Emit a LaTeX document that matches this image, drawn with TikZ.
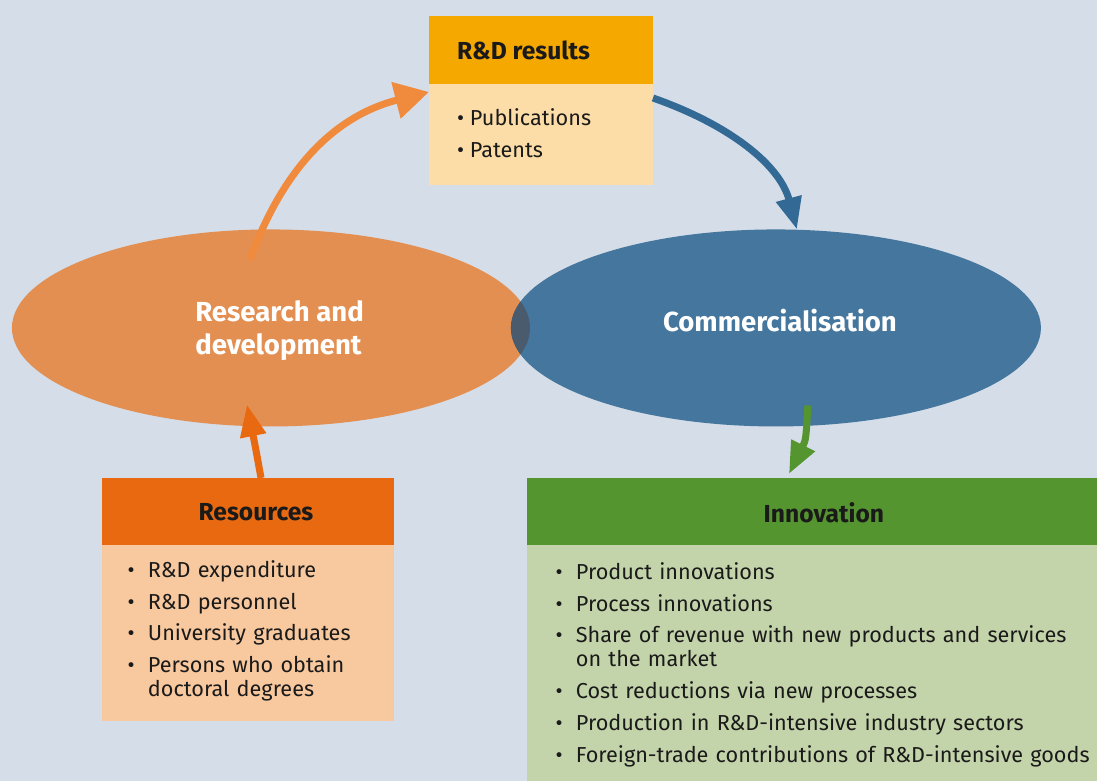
\documentclass[tikz,border=0pt]{standalone}
\usepackage{fontspec}
\setmainfont{Fira Sans}
\usepackage{enumitem}
\usetikzlibrary{arrows.meta,shapes.geometric,positioning}

\definecolor{bg}{HTML}{D5DDE8}
\definecolor{ink}{HTML}{1A1A1A}
\definecolor{rdhead}{HTML}{F5A800}
\definecolor{rdbody}{HTML}{FCDDA8}
\definecolor{rdev}{HTML}{E48F52}
\definecolor{comm}{HTML}{44769E}
\definecolor{overlap}{HTML}{4A5B6D}
\definecolor{arrorange}{HTML}{F08A3C}
\definecolor{arrblue}{HTML}{336995}
\definecolor{reshead}{HTML}{E8690F}
\definecolor{resbody}{HTML}{F8C89E}
\definecolor{innohead}{HTML}{55952F}
\definecolor{innobody}{HTML}{C4D4AA}

\setlist[itemize]{label=\textbullet, leftmargin=14pt, labelsep=9.5pt, labelwidth=4.5pt,
  itemsep=5.7pt, parsep=0pt, topsep=0pt, partopsep=0pt}

\begin{document}
\begin{tikzpicture}[x=0.025cm, y=-0.025cm,
    box/.style={anchor=north west, inner sep=0pt, outer sep=0pt},
    oval/.style={ellipse, inner sep=0pt, outer sep=0pt, minimum height=4.925cm},
    flow/.style={line width=5pt, -{Triangle[length=0.8cm, width=0.62cm]}},
    headtxt/.style={inner sep=0pt, font=\fontsize{17.5}{20}\selectfont\bfseries, text=ink},
    ovaltxt/.style={inner sep=0pt, font=\fontsize{19.6}{23.5}\selectfont\bfseries, text=white},
    list/.style={anchor=north west, inner sep=0pt, text=ink, font=\fontsize{15.4}{17}\selectfont}]

    % Background
    \fill[bg] (0,0) rectangle (1097,781);

    % Ellipses
    \node [oval, fill=rdev, minimum width=12.95cm] (rdev) at (271,328) {};
    \node [oval, fill=comm, minimum width=13.25cm] (comm) at (776,328) {};
    \begin{scope}
        \clip (271,328) ellipse [x radius=6.475cm, y radius=2.4625cm];
        \fill [overlap] (776,328) ellipse [x radius=6.625cm, y radius=2.4625cm];
    \end{scope}
    \node [ovaltxt, anchor=west, align=left] (rdevtxt) at (195,331) {Research and\\development};
    \node [ovaltxt] (commtxt) at (780,321) {Commercialisation};

    % R&D results
    \node [box, fill=rdhead, minimum width=5.6cm, minimum height=1.7cm] (rdreshead) at (429,16) {};
    \node [box, fill=rdbody, minimum width=5.6cm, minimum height=2.525cm] (rdresbody) at (429,84) {};
    \node [headtxt, anchor=west] (rdrestitle) at (457,50) {R\&D results};
    \node [list, align=left, font=\fontsize{15.4}{22.8}\selectfont] (rdreslist) at (457,108)
        {\textbullet\ Publications\\\textbullet\ Patents};

    % Resources
    \node [box, fill=reshead, minimum width=7.3cm, minimum height=1.675cm] (reshead) at (102,478) {};
    \node [box, fill=resbody, minimum width=7.3cm, minimum height=4.4cm] (resbody) at (102,545) {};
    \node [headtxt] (restitle) at (256,512) {Resources};
    \node [list, text width=6.6cm] (reslist) at (128,553) {%
        \begin{itemize}
            \item R\&D expenditure
            \item R\&D personnel
            \item University graduates
            \item Persons who obtain\newline doctoral degrees
        \end{itemize}};

    % Innovation
    \node [box, fill=innohead, minimum width=14.25cm, minimum height=1.675cm] (innohead) at (527,478) {};
    \node [box, fill=innobody, minimum width=14.25cm, minimum height=5.9cm] (innobody) at (527,545) {};
    \node [headtxt] (innotitle) at (824,513) {Innovation};
    \node [list, text width=13.5cm] (innolist) at (556,555) {%
        \begin{itemize}
            \item Product innovations
            \item Process innovations
            \item Share of revenue with new products and services\newline on the market
            \item Cost reductions via new processes
            \item Production in R\&D-intensive industry sectors
            \item Foreign-trade contributions of R\&D-intensive goods
        \end{itemize}};

    % Arrows
    \draw [flow, draw=arrorange, -{Triangle[length=0.85cm, width=0.9cm]}]
        ([xshift=-0.525cm, yshift=-0.75cm]rdev.north) .. controls (290,150) and (350,112) .. ([yshift=-0.2cm]rdresbody.north west);
    \draw [flow, draw=arrblue]
        ([yshift=-0.35cm]rdresbody.north east) .. controls (730,125) and (780,165) .. ([xshift=0.525cm]comm.north);
    \draw [flow, draw=reshead]
        ([xshift=0.325cm]reshead.north) .. controls (256,450) .. ([xshift=-0.6cm, yshift=0.55cm]rdev.south);
    \draw [flow, draw=innohead]
        ([xshift=0.8cm, yshift=0.525cm]comm.south) .. controls (806,440) .. ([xshift=-0.575cm, yshift=0.1cm]innohead.north);
\end{tikzpicture}
\end{document}
